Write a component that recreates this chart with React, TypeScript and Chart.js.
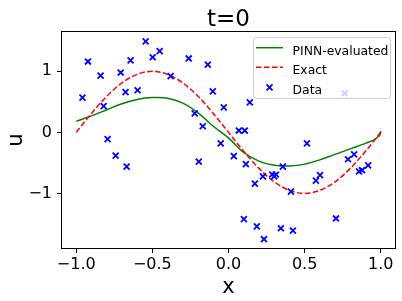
import React, { useEffect, useRef } from "react";
import { Chart, registerables } from "chart.js";
Chart.register(...registerables);

const titleText = "t=0";
const xLabel = "x";
const yLabel = "u";
const xTicks = [-1, -0.5, 0, 0.5, 1];
const yTicks = [-1, 0, 1];
const legendLabels = ["PINN-evaluated", "Exact", "Data"];

const pinnX = [-1, -0.9, -0.8, -0.7, -0.6, -0.5, -0.4, -0.3, -0.2, -0.1, 0, 0.1, 0.2, 0.3, 0.4, 0.5, 0.6, 0.7, 0.8, 0.9, 0.97, 1.0, 0.99];
const pinnY = [0.18, 0.27, 0.37, 0.47, 0.54, 0.57, 0.56, 0.48, 0.32, 0.1, -0.09, -0.33, -0.47, -0.54, -0.55, -0.52, -0.45, -0.36, -0.27, -0.18, -0.1, 0.01, -0.07];

const exactX = [-1, -0.9, -0.8, -0.7, -0.6, -0.5, -0.4, -0.3, -0.2, -0.1, 0, 0.1, 0.2, 0.3, 0.4, 0.5, 0.6, 0.7, 0.8, 0.9, 1.0];
const exactY = [0, 0.31, 0.59, 0.81, 0.95, 1.0, 0.95, 0.81, 0.59, 0.31, 0, -0.31, -0.59, -0.81, -0.95, -1.0, -0.95, -0.81, -0.59, -0.31, 0];

const dataX = [-0.544, -0.923, -0.84, -0.643, -0.708, -0.498, -0.452, -0.261, -0.136, -0.38, -0.959, -0.676, -0.597, -0.82, -0.103, -0.031, -0.222, -0.169, -0.794, -0.051, -0.741, -0.669, -0.195, 0.14, 0.068, 0.107, 0.515, 0.763, 0.035, 0.114, 0.357, 0.173, 0.226, 0.287, 0.311, 0.3, 0.41, 0.574, 0.601, 0.785, 0.825, 0.857, 0.877, 0.917, 0.101, 0.186, 0.233, 0.344, 0.423, 0.706];
const dataY = [1.49, 1.16, 0.93, 1.18, 0.98, 1.23, 1.33, 1.21, 1.11, 0.92, 0.57, 0.66, 0.69, 0.43, 0.67, 0.41, 0.31, 0.1, -0.11, -0.18, -0.38, -0.56, -0.48, 0.49, 0.03, 0.03, -0.18, 0.64, -0.39, -0.52, -0.56, -0.84, -0.72, -0.69, -0.69, -0.72, -0.97, -0.79, -0.7, -0.44, -0.36, -0.64, -0.62, -0.54, -1.42, -1.54, -1.75, -1.57, -1.61, -1.41];

const FONT = "'DejaVu Sans', sans-serif";
const fmt = (v: number, d: number) => v.toFixed(d).replace("-", "\u2212");

const framePlugin = {
  id: "frameAndExtras",
  beforeDraw(chart: any) {
    const ctx = chart.ctx;
    ctx.save();
    ctx.fillStyle = "#ffffff";
    ctx.fillRect(0, 0, chart.width, chart.height);
    ctx.restore();
  },
  afterDatasetsDraw(chart: any) {
    const ctx = chart.ctx;
    const a = chart.chartArea;
    ctx.save();
    ctx.strokeStyle = "#000000";
    ctx.lineWidth = 1;
    ctx.strokeRect(Math.round(a.left) + 0.5, Math.round(a.top) + 0.5, Math.round(a.right - a.left) - 1, Math.round(a.bottom - a.top) - 1);
    ctx.fillStyle = "#000";
    ctx.font = `23px ${FONT}`;
    ctx.textAlign = "center";
    ctx.textBaseline = "alphabetic";
    ctx.fillText(titleText, (a.left + a.right) / 2, 26);
    const bx = 253.5, by = 37.5, bw = 137, bh = 61;
    ctx.beginPath();
    (ctx as any).roundRect(bx, by, bw, bh, 3);
    ctx.fillStyle = "rgba(255,255,255,0.8)";
    ctx.fill();
    ctx.strokeStyle = "#cccccc";
    ctx.lineWidth = 1;
    ctx.stroke();
    const rows = [47.7, 67.3, 87.3];
    const baselines = [54.7, 74.2, 93.8];
    const hx0 = 256, hx1 = 283, tx = 292.5;
    ctx.font = `12.4px ${FONT}`;
    ctx.textAlign = "left";
    ctx.textBaseline = "alphabetic";
    ctx.strokeStyle = "#008000";
    ctx.lineWidth = 1.5;
    ctx.setLineDash([]);
    ctx.beginPath();
    ctx.moveTo(hx0, rows[0]);
    ctx.lineTo(hx1, rows[0]);
    ctx.stroke();
    ctx.strokeStyle = "#ff0000";
    ctx.setLineDash([5.55, 2.4]);
    ctx.beginPath();
    ctx.moveTo(hx0, rows[1]);
    ctx.lineTo(hx1, rows[1]);
    ctx.stroke();
    ctx.setLineDash([]);
    const cx = (hx0 + hx1) / 2, r = 3;
    ctx.strokeStyle = "#0000ff";
    ctx.lineWidth = 1.8;
    ctx.beginPath();
    ctx.moveTo(cx - r, rows[2] - r);
    ctx.lineTo(cx + r, rows[2] + r);
    ctx.moveTo(cx - r, rows[2] + r);
    ctx.lineTo(cx + r, rows[2] - r);
    ctx.stroke();
    ctx.fillStyle = "#000";
    legendLabels.forEach((t, i) => ctx.fillText(t, tx, baselines[i]));
    ctx.restore();
  },
};

export default function App() {
  const ref = useRef<HTMLCanvasElement | null>(null);
  useEffect(() => {
    document.body.style.margin = "0";
    const canvas = ref.current!;
    const chart = new Chart(canvas, {
      type: "scatter",
      data: {
        datasets: [
          {
            label: legendLabels[0],
            data: pinnX.map((x, i) => ({ x, y: pinnY[i] })),
            showLine: true,
            borderColor: "#008000",
            borderWidth: 1.5,
            pointRadius: 0,
            tension: 0.35,
            order: 3,
          },
          {
            label: legendLabels[1],
            data: exactX.map((x, i) => ({ x, y: exactY[i] })),
            showLine: true,
            borderColor: "#ff0000",
            borderWidth: 1.5,
            borderDash: [5.55, 2.4],
            pointRadius: 0,
            cubicInterpolationMode: "monotone",
            order: 2,
          },
          {
            label: legendLabels[2],
            data: dataX.map((x, i) => ({ x, y: dataY[i] })),
            showLine: false,
            pointStyle: "crossRot",
            pointRadius: 4.2,
            borderColor: "#0000ff",
            backgroundColor: "#0000ff",
            pointBorderWidth: 1.8,
            order: 1,
          },
        ] as any,
      },
      options: {
        animation: false,
        responsive: false,
        devicePixelRatio: 1,
        layout: { padding: { top: 31, right: 6, left: 0, bottom: 0 } },
        plugins: { legend: { display: false }, title: { display: false }, tooltip: { enabled: false } },
        scales: {
          x: {
            type: "linear",
            min: -1.1,
            max: 1.1,
            afterBuildTicks: (s: any) => { s.ticks = xTicks.map((v) => ({ value: v })); },
            afterFit: (s: any) => { s.height = 52; },
            grid: { display: true, drawOnChartArea: false, drawTicks: true, tickLength: 4, color: "#000" },
            border: { display: false },
            ticks: { color: "#000", font: { family: FONT, size: 16 }, padding: 2, maxRotation: 0, autoSkip: false, callback: (v: any) => fmt(Number(v), 1) },
            title: { display: true, text: xLabel, color: "#000", font: { family: FONT, size: 21 }, padding: { top: 0, bottom: 1 } },
          },
          y: {
            type: "linear",
            min: -1.91,
            max: 1.66,
            afterBuildTicks: (s: any) => { s.ticks = yTicks.map((v) => ({ value: v })); },
            afterFit: (s: any) => { s.width = 61; },
            grid: { display: true, drawOnChartArea: false, drawTicks: true, tickLength: 4, color: "#000" },
            border: { display: false },
            ticks: { color: "#000", font: { family: FONT, size: 16 }, padding: 5, autoSkip: false, callback: (v: any) => fmt(Number(v), 0) },
            title: { display: true, text: yLabel, color: "#000", font: { family: FONT, size: 21 }, padding: { top: 4, bottom: 0 } },
          },
        },
      } as any,
      plugins: [framePlugin],
    });
    return () => chart.destroy();
  }, []);
  return (
    <div style={{ width: 402, height: 301 }}>
      <canvas ref={ref} width={402} height={301} style={{ display: "block", width: 402, height: 301 }} />
    </div>
  );
}
